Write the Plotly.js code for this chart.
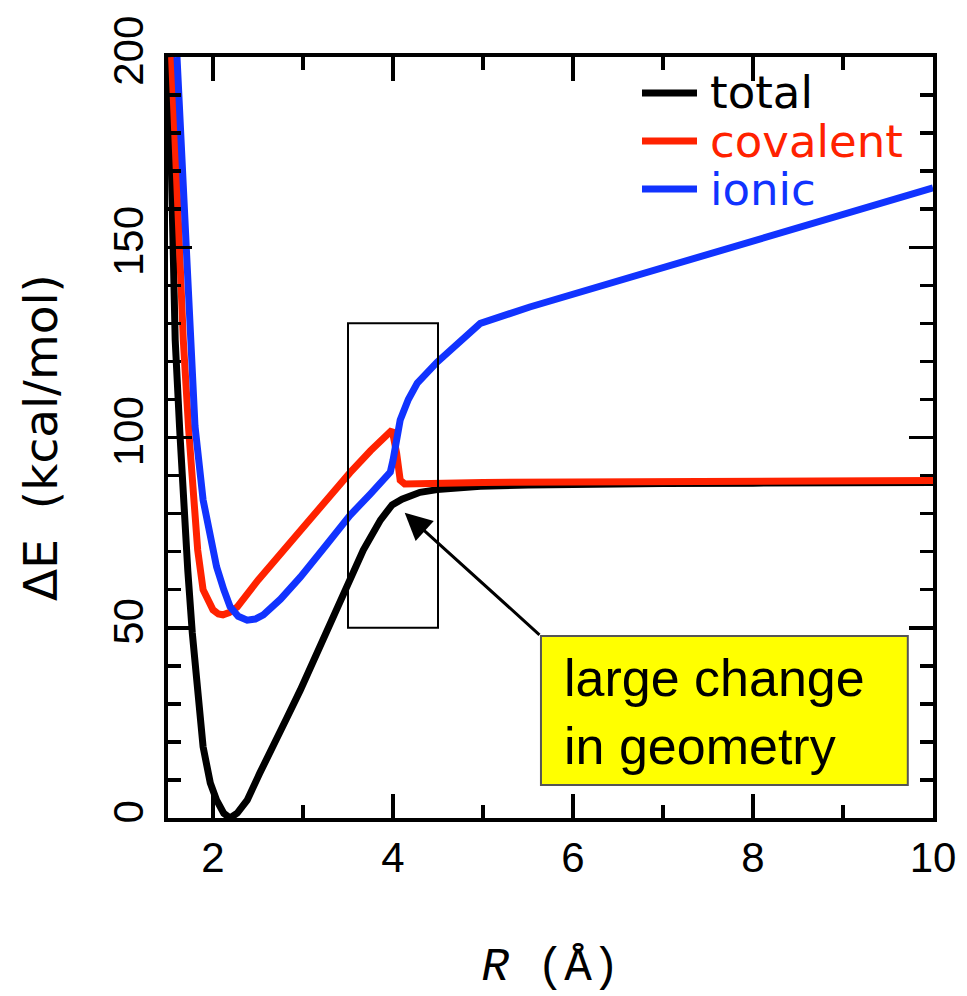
<!DOCTYPE html>
<html>
<head>
<meta charset="utf-8">
<script src="https://cdn.plot.ly/plotly-3.0.1.min.js"></script>
<style>html,body{margin:0;padding:0;background:#fff;}#chart{width:967px;height:996px;}</style>
</head>
<body>
<div id="chart"></div>
<script>
// ---- data ----
const seriesNames = ["total", "covalent", "ionic"];
const seriesColors = ["#000000", "#ff2200", "#1133ff"];

const R_total = [1.51, 1.55, 1.58, 1.63, 1.67, 1.72, 1.77, 1.83, 1.89, 1.97, 2.04, 2.12, 2.19, 2.27, 2.38, 2.52, 2.67, 2.82, 2.97, 3.1, 3.22, 3.37, 3.52, 3.67, 3.86, 3.99, 4.1, 4.19, 4.3, 4.49, 4.7, 4.97, 5.5, 6, 7, 8, 9, 10];
const E_total = [200, 158, 125.6, 102, 84, 65, 48.6, 31, 18.7, 9.2, 4.7, 1.2, 0, 1.3, 4.7, 11.8, 18.7, 26.3, 33.6, 40.5, 46.8, 55.5, 63.3, 70.4, 78.3, 82.3, 83.8, 84.8, 85.6, 86.3, 86.8, 87.2, 87.5, 87.7, 87.9, 88.0, 88.1, 88.2];

const R_cov = [1.54, 1.6, 1.67, 1.73, 1.78, 1.83, 1.89, 1.95, 2.0, 2.06, 2.11, 2.18, 2.27, 2.5, 2.78, 3.0, 3.1, 3.27, 3.52, 3.75, 3.99, 4.04, 4.08, 4.13, 4.2, 4.41, 5, 6, 8, 10];
const E_cov = [200, 165, 125.6, 102, 83.6, 70.4, 60, 56.5, 54.7, 53.6, 53.4, 54.0, 55.5, 62.5, 70.4, 76.5, 79.5, 83.6, 90.7, 96.5, 102, 95.9, 88.8, 87.8, 87.8, 88.0, 88.2, 88.3, 88.5, 88.7];

const R_ion = [1.6, 1.67, 1.74, 1.8, 1.89, 1.97, 2.04, 2.12, 2.19, 2.28, 2.38, 2.47, 2.56, 2.75, 2.97, 3.25, 3.52, 3.75, 3.97, 4.0, 4.04, 4.08, 4.17, 4.27, 4.49, 4.75, 4.97, 5.52, 10];
const E_ion = [200, 165, 125.6, 103, 83.6, 74.9, 66, 60, 55.5, 53, 52, 52.3, 53.4, 57.5, 63.3, 71.5, 79.5, 85.2, 90.9, 94, 100, 104.6, 110, 114.3, 119.8, 125.3, 130, 134.3, 165.6];

const xTickVals = [2, 4, 6, 8, 10];
const yTickVals = [0, 50, 100, 150, 200];

// ---- traces ----
const xs = [R_total, R_cov, R_ion];
const ys = [E_total, E_cov, E_ion];
const traces = seriesNames.map((n, i) => ({
  type: "scatter", mode: "lines", name: n,
  x: xs[i], y: ys[i],
  line: {color: seriesColors[i], width: 7, shape: "linear"},
  showlegend: false
}));

// ---- manual legend (line samples + labels) ----
const legY = [0.9527, 0.8896, 0.8265];
const legShapes = seriesNames.map((n, i) => ({
  type: "line", xref: "paper", yref: "paper",
  x0: 0.6196, x1: 0.6915, y0: legY[i], y1: legY[i],
  line: {color: seriesColors[i], width: 7}
}));
const legAnn = seriesNames.map((n, i) => ({
  xref: "paper", yref: "paper", x: 0.7059, y: legY[i],
  xanchor: "left", yanchor: "middle", showarrow: false,
  text: n, font: {family: "DejaVu Sans, sans-serif", size: 45, color: seriesColors[i]}
}));

const tickFont = {family: "Liberation Sans Narrow, Liberation Sans, Arial, sans-serif", size: 42, color: "#000"};

const layout = {
  width: 967, height: 996,
  margin: {l: 168, r: 34, t: 57, b: 178},
  paper_bgcolor: "#fff", plot_bgcolor: "#fff",
  showlegend: false,
  xaxis: {
    range: [1.5, 10], tickvals: xTickVals, ticktext: xTickVals.map(String),
    ticks: "inside", ticklen: 24, tickwidth: 3.5, tickcolor: "#000",
    minor: {tick0: 1, dtick: 1, ticks: "inside", ticklen: 13, tickwidth: 3.5, tickcolor: "#000"},
    mirror: "allticks", showline: true, linewidth: 4, linecolor: "#000",
    showgrid: false, zeroline: false, tickfont: tickFont, ticklabelstandoff: 0,
    title: {text: "<i>R</i> (Å)", font: {family: "Liberation Mono, DejaVu Sans Mono, monospace", size: 46, color: "#000"}, standoff: 68}
  },
  yaxis: {
    range: [0, 200], tickvals: yTickVals, ticktext: yTickVals.map(String),
    tickangle: -90,
    ticks: "inside", ticklen: 24, tickwidth: 3.5, tickcolor: "#000",
    minor: {tick0: 0, dtick: 10, ticks: "inside", ticklen: 13, tickwidth: 3.5, tickcolor: "#000"},
    mirror: "allticks", showline: true, linewidth: 4, linecolor: "#000",
    showgrid: false, zeroline: false, tickfont: tickFont, ticklabelstandoff: 4,
    title: {text: "ΔE  (kcal/mol)", font: {family: "DejaVu Sans, sans-serif", size: 47, color: "#000"}, standoff: 34}
  },
  shapes: [
    {type: "rect", xref: "x", yref: "y", x0: 3.5, x1: 4.5, y0: 50, y1: 130,
     line: {color: "#000", width: 2}, fillcolor: "rgba(0,0,0,0)"},
    {type: "rect", xref: "x", yref: "y", x0: 5.644, x1: 9.72, y0: 8.7, y1: 47.8,
     line: {color: "#555", width: 2}, fillcolor: "#ffff00"}
  ].concat(legShapes),
  annotations: [
    {xref: "x", yref: "y", x: 4.13, y: 80.2, axref: "x", ayref: "y", ax: 5.644, ay: 47.8,
     text: "", showarrow: true, arrowhead: 2, arrowsize: 1.8, arrowwidth: 3, arrowcolor: "#000"},
    {xref: "x", yref: "y", x: 5.875, y: 27.8, xanchor: "left", yanchor: "middle", align: "left",
     showarrow: false, text: "large change<br>in geometry",
     font: {family: "Liberation Sans, Arial, sans-serif", size: 52, color: "#000"}}
  ].concat(legAnn)
};

Plotly.newPlot("chart", traces, layout, {staticPlot: true, displayModeBar: false});
</script>
</body>
</html>
